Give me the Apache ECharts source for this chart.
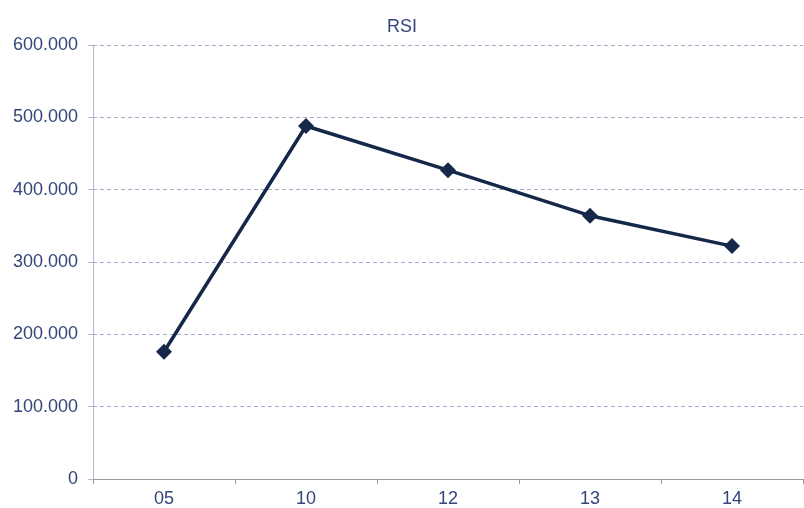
<!DOCTYPE html>
<html>
<head>
<meta charset="utf-8">
<script src="https://cdn.jsdelivr.net/npm/echarts@6/dist/echarts.min.js"></script>
<style>
  html, body { margin: 0; padding: 0; background: #fff; }
  #main { width: 804px; height: 508px; }
</style>
</head>
<body>
<div id="main"></div>
<script>
const categories = ["05", "10", "12", "13", "14"];
const rsiValues = [176, 488, 427, 364, 322];
const yTicks = [0, 100, 200, 300, 400, 500, 600];

const labelColor = "#34467a";
const chart = echarts.init(document.getElementById("main"));

let option = {
  animation: false,
  title: {
    text: "RSI",
    left: "center",
    top: 13,
    textStyle: {
      color: labelColor,
      fontSize: 18,
      fontWeight: "normal",
      fontFamily: "Liberation Sans",
    },
  },
  grid: { left: 93, right: 1, top: 45, bottom: 29 },
  xAxis: {
    type: "category",
    data: categories,
    boundaryGap: true,
    axisLine: { lineStyle: { color: "#9a9a9a", width: 1 } },
    axisTick: { show: true, length: 5, lineStyle: { color: "#9a9a9a" } },
    axisLabel: {
      color: labelColor,
      fontSize: 18,
      fontFamily: "Liberation Sans",
      margin: 11,
    },
  },
  yAxis: {
    type: "value",
    min: yTicks[0],
    max: yTicks[yTicks.length - 1],
    interval: 100,
    axisLine: { show: true, lineStyle: { color: "#b4b8d0", width: 1 } },
    axisTick: { show: true, length: 5, lineStyle: { color: "#b4b8d0" } },
    axisLabel: {
      color: labelColor,
      fontSize: 18,
      fontFamily: "Liberation Sans",
      margin: 15,
      formatter: function (v) {
        return v === 0 ? "0" : v.toFixed(3);
      },
    },
    splitLine: {
      show: true,
      lineStyle: { color: "#a4aac8", type: [4, 3], width: 1 },
    },
  },
  series: [
    {
      name: "RSI",
      type: "line",
      data: rsiValues,
      symbol: "diamond",
      symbolSize: 16,
      lineStyle: { color: "#15284a", width: 3.5 },
      itemStyle: { color: "#15284a" },
    },
  ],
};

option && chart.setOption(option);
</script>
</body>
</html>
